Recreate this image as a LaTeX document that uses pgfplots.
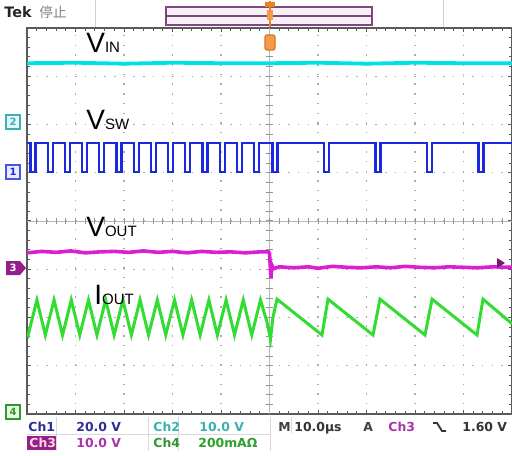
\documentclass[border=0pt]{standalone}
\usepackage{pgfplots}
\pgfplotsset{compat=1.18}
\usepackage{fontspec}
\setmainfont{Liberation Sans}
\newfontfamily\dv{DejaVu Sans}
\newfontfamily\cjk{Noto Sans CJK SC}
\usetikzlibrary{calc}
\definecolor{cvin}{RGB}{0,225,230}
\definecolor{cvsw}{RGB}{25,40,225}
\definecolor{cvout}{RGB}{220,30,210}
\definecolor{ciout}{RGB}{50,220,50}
\definecolor{cgrid}{RGB}{150,150,150}
\definecolor{cframe}{RGB}{90,90,90}
\definecolor{cnavy}{RGB}{45,45,150}
\definecolor{cteal}{RGB}{60,175,175}
\definecolor{cpurp}{RGB}{170,50,170}
\definecolor{cmag}{RGB}{150,30,140}
\definecolor{cgrn}{RGB}{50,150,50}
\definecolor{corange}{RGB}{240,130,30}
\begin{document}
\begin{tikzpicture}
\begin{axis}[name=ax, at={(0,0)}, anchor=south west, scale only axis,
  width=242.5pt, height=193pt, xmin=0, xmax=10, ymin=0, ymax=8,
  xtick={0,...,10}, ytick={0,...,8}, minor x tick num=4, minor y tick num=4,
  xticklabels={}, yticklabels={}, tick align=inside,
  major tick length=2pt, minor tick length=1.5pt,
  tick style={cframe, line width=0.5pt},
  grid=major, major grid style={cgrid!80, line width=0.7pt, dash pattern=on 0.7pt off 4.14pt},
  axis line style={cframe, line width=1.2pt}, clip=true]
\draw[cgrid!70, line width=0.4pt] (axis cs:0,4) -- (axis cs:10,4);
\draw[cgrid!70, line width=0.4pt] (axis cs:5,0) -- (axis cs:5,8);
\pgfplotsinvokeforeach{1,...,49}{\draw[cgrid, line width=0.5pt] (axis cs:#1*0.2,3.93) -- (axis cs:#1*0.2,4.07);}
\pgfplotsinvokeforeach{1,...,39}{\draw[cgrid, line width=0.5pt] (axis cs:4.92,#1*0.2) -- (axis cs:5.08,#1*0.2);}
% VIN
\addplot[cvin, line width=1.9pt] coordinates {(0,7.27) (1,7.28) (2,7.26) (3,7.28) (4,7.27) (5,7.27) (6,7.28) (7,7.26) (8,7.28) (9,7.27) (10,7.27)};
% VSW
\addplot[cvsw, line width=1.1pt] coordinates {
(0,5.61)
(0.074,5.61) (0.074,5.01) (0.174,5.01) (0.174,5.61)
(0.428,5.61) (0.428,5.01) (0.528,5.01) (0.528,5.61)
(0.783,5.61) (0.783,5.01) (0.883,5.01) (0.883,5.61)
(1.138,5.61) (1.138,5.01) (1.238,5.01) (1.238,5.61)
(1.492,5.61) (1.492,5.01) (1.592,5.01) (1.592,5.61)
(1.847,5.61) (1.847,5.01) (1.947,5.01) (1.947,5.61)
(2.202,5.61) (2.202,5.01) (2.302,5.01) (2.302,5.61)
(2.556,5.61) (2.556,5.01) (2.656,5.01) (2.656,5.61)
(2.911,5.61) (2.911,5.01) (3.011,5.01) (3.011,5.61)
(3.265,5.61) (3.265,5.01) (3.365,5.01) (3.365,5.61)
(3.620,5.61) (3.620,5.01) (3.720,5.01) (3.720,5.61)
(3.975,5.61) (3.975,5.01) (4.075,5.01) (4.075,5.61)
(4.329,5.61) (4.329,5.01) (4.429,5.01) (4.429,5.61)
(4.684,5.61) (4.684,5.01) (4.784,5.01) (4.784,5.61)
(5.063,5.61) (5.063,5.01) (5.163,5.01) (5.163,5.61)
(6.125,5.61) (6.125,5.01) (6.225,5.01) (6.225,5.61)
(7.187,5.61) (7.187,5.01) (7.287,5.01) (7.287,5.61)
(8.249,5.61) (8.249,5.01) (8.349,5.01) (8.349,5.61)
(9.311,5.61) (9.311,5.01) (9.411,5.01) (9.411,5.61)
(10,5.61)};
% VOUT
\addplot[cvout, line width=1.8pt] coordinates {(0,3.34) (0.3,3.37) (0.6,3.35) (0.9,3.38) (1.2,3.34) (1.5,3.36) (1.8,3.37) (2.1,3.35) (2.4,3.38) (2.7,3.35) (3.0,3.37) (3.3,3.34) (3.6,3.37) (3.9,3.35) (4.2,3.36) (4.5,3.34) (4.8,3.36) (4.98,3.36) (5.0,3.33) (5.03,2.82) (5.05,3.08) (5.08,3.01) (5.2,3.05) (5.5,3.03) (5.8,3.05) (6.0,3.02) (6.3,3.06) (6.6,3.04) (6.9,3.03) (7.2,3.05) (7.5,3.03) (7.8,3.06) (8.1,3.04) (8.4,3.03) (8.7,3.05) (9.0,3.04) (9.3,3.03) (9.6,3.05) (10,3.04)};
% IOUT
\addplot[ciout, line width=1.5pt] coordinates {(0,1.68) (0.024,1.637) (0.204,2.363) (0.378,1.637) (0.558,2.363) (0.733,1.637) (0.913,2.363) (1.088,1.637) (1.268,2.363) (1.442,1.637) (1.622,2.363) (1.797,1.637) (1.977,2.363) (2.152,1.637) (2.332,2.363) (2.506,1.637) (2.686,2.363) (2.861,1.637) (3.041,2.363) (3.215,1.637) (3.395,2.363) (3.570,1.637) (3.750,2.363) (3.925,1.637) (4.105,2.363) (4.279,1.637) (4.459,2.363) (4.634,1.637) (4.814,2.363) (4.95,1.9) (5.02,1.55) (5.07,2.0) (5.155,2.38) (6.082,1.637) (6.206,2.38) (7.134,1.637) (7.278,2.38) (8.206,1.637) (8.351,2.38) (9.278,1.637) (9.402,2.38) (10,1.87)};
\end{axis}
\coordinate (O) at ($(ax.north west)+(-13.5pt,14pt)$);
\begin{scope}[shift={(O)}, x=0.5pt, y=-0.5pt]
% header
\draw[gray!35, line width=0.5pt] (95,0) -- (95,27);
\draw[gray!35, line width=0.5pt] (443,0) -- (443,27);
\draw[fill=violet!6, draw=violet!45!gray, line width=0.8pt] (166,7) rectangle (372,25);
\draw[violet!45!gray, line width=0.6pt] (166,16) -- (372,16);
\node[anchor=base west, inner sep=0, text=black!85, font=\dv\bfseries\fontsize{7.2}{8}\selectfont] at (4,18) {Tek};
\node[anchor=base west, inner sep=0, text=black!50, font=\cjk\fontsize{6.8}{8}\selectfont] at (39,18) {停止};
% trigger marker
\draw[corange, line width=1.2pt] (270,1) -- (270,27);
\fill[corange] (265,2) rectangle (275,7);
\fill[corange!80] (267,10) rectangle (273,20);
\draw[corange!90!black, fill=corange!80, line width=0.6pt, rounded corners=1pt] (265,35) rectangle (275,50);
% trace labels
\node[anchor=base west, inner sep=0, font=\fontsize{14}{14}\selectfont] at (86,53) {V\fontsize{7.5}{7.5}\selectfont IN};
\node[anchor=base west, inner sep=0, font=\fontsize{14}{14}\selectfont] at (86,130) {V\fontsize{7.5}{7.5}\selectfont SW};
\node[anchor=base west, inner sep=0, font=\fontsize{14}{14}\selectfont] at (86,236) {V\fontsize{7.5}{7.5}\selectfont OUT};
\node[anchor=base west, inner sep=0, font=\fontsize{14}{14}\selectfont] at (94,304) {I\fontsize{7.5}{7.5}\selectfont OUT};
% channel markers
\draw[fill=cyan!12, draw=cteal, line width=0.6pt] (6,115) rectangle (20,129);
\node[text=cteal, inner sep=0, font=\dv\bfseries\fontsize{5}{5}\selectfont] at (13,122) {2};
\draw[fill=blue!8, draw=cvsw!80, line width=0.6pt] (6,165) rectangle (20,179);
\node[text=cvsw, inner sep=0, font=\dv\bfseries\fontsize{5}{5}\selectfont] at (13,172) {1};
\fill[cmag] (6,261) -- (20,261) -- (26,268) -- (20,275) -- (6,275) -- cycle;
\node[text=white, inner sep=0, font=\dv\bfseries\fontsize{5}{5}\selectfont] at (13,268) {3};
\draw[fill=green!10, draw=cgrn, line width=0.6pt] (6,405) rectangle (20,419);
\node[text=cgrn, inner sep=0, font=\dv\bfseries\fontsize{5}{5}\selectfont] at (13,412) {4};
\fill[cmag!80!black] (497,258) -- (505,263) -- (497,268) -- cycle;
% bottom info
\foreach \xx in {56,148,178,270} {\draw[gray!30, line width=0.5pt] (\xx,417) -- (\xx,451);}
\draw[gray!30, line width=0.5pt] (27,434) -- (270,434);
\draw[gray!30, line width=0.5pt] (291,417) -- (291,433);
\fill[cmag] (27,436) rectangle (56,450);
\tikzset{info/.style={anchor=base west, inner sep=0, font=\dv\bfseries\fontsize{6.2}{7}\selectfont}}
\node[info, text=cnavy] at (28,431) {Ch1};
\node[info, text=cnavy] at (76,431) {20.0 V};
\node[info, text=cteal] at (153,431) {Ch2};
\node[info, text=cteal] at (199,431) {10.0 V};
\node[info, text=black!75] at (278,431) {M};
\node[info, text=black!80] at (294,431) {10.0µs};
\node[info, text=black!75] at (363,431) {A};
\node[info, text=cpurp] at (388,431) {Ch3};
\draw[black!80, line width=0.9pt] (433,423) -- (437,423) -- (442,431) -- (446,431);
\node[info, text=black!80] at (462,431) {1.60 V};
\node[info, text=pink!60] at (29,447) {Ch3};
\node[info, text=cpurp] at (76,447) {10.0 V};
\node[info, text=cgrn] at (153,447) {Ch4};
\node[info, text=cgrn!90!green] at (198,447) {200mAΩ};
\end{scope}
\pgfresetboundingbox
\path[use as bounding box] (O) rectangle ++(256pt,-227.5pt);
\end{tikzpicture}
\end{document}
